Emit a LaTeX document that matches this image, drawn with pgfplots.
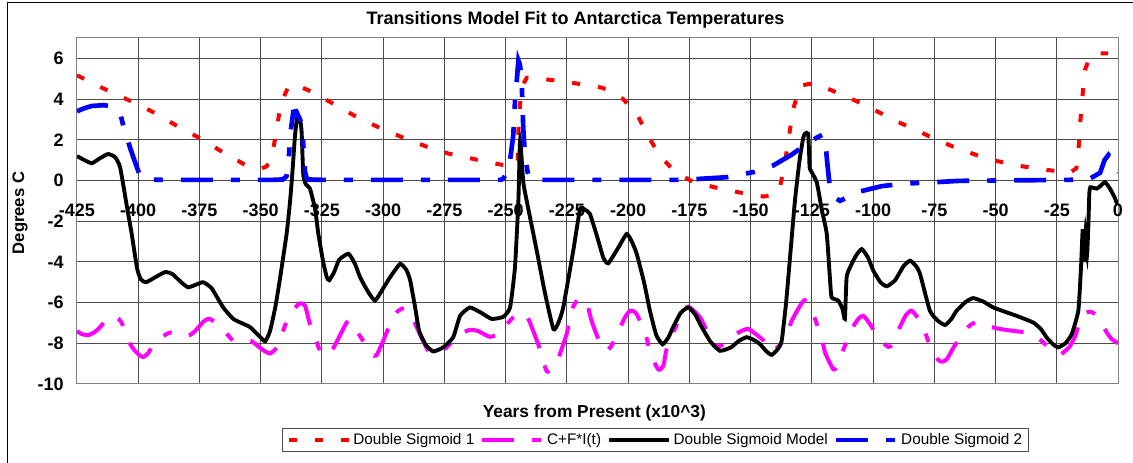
\documentclass[border=0pt]{standalone}
\usepackage{pgfplots}
\pgfplotsset{compat=1.18}
\usepackage{fontspec}
\setmainfont{Liberation Sans}
\definecolor{mag}{RGB}{255,0,255}
\definecolor{rd}{RGB}{255,0,0}
\definecolor{bl}{RGB}{0,0,255}
\begin{document}
\begin{tikzpicture}
\path[use as bounding box] (0pt,0pt) rectangle (849.75pt,-347.25pt);
\draw[black, line width=0.75pt] (5.25pt,-347.25pt) -- (5.25pt,-2.25pt) -- (849.75pt,-2.25pt);
\begin{axis}[
  at={(57.75pt,-288pt)}, anchor=south west,
  scale only axis, width=780.75pt, height=259.5pt,
  xmin=-425, xmax=0, ymin=-10, ymax=7,
  xtick={-425,-400,-375,-350,-325,-300,-275,-250,-225,-200,-175,-150,-125,-100,-75,-50,-25,0},
  xticklabels={-425,-400,-375,-350,-325,-300,-275,-250,-225,-200,-175,-150,-125,-100,-75,-50,-25,0},
  ytick={-10,-8,-6,-4,-2,0,2,4,6},
  yticklabels={-10,-8,-6,-4,-2,0,2,4,6},
  grid=major, major grid style={black!70, line width=0.75pt},
  axis line style={black!50, line width=0.75pt},
  major tick length=0pt,
  tick label style={font=\bfseries\fontsize{13.5}{16}\selectfont},
  xticklabel style={anchor=base, yshift=125.5pt},
  yticklabel style={anchor=east, xshift=-6.5pt},
  every axis title shift=0pt,
  title={Transitions Model Fit to Antarctica Temperatures},
  title style={at={(axis description cs:0.4789,1.0376)}, anchor=base, font=\bfseries\fontsize{13.5}{16}\selectfont},
  xlabel={Years from Present (x10\textasciicircum 3)},
  xlabel style={at={(axis description cs:0.497,-0.0954)}, anchor=base, font=\bfseries\fontsize{13}{15}\selectfont},
  ylabel={Degrees C},
  ylabel style={at={(axis description cs:-0.0548,0.494)}, anchor=center, font=\bfseries\fontsize{12.5}{14}\selectfont},
  legend columns=4,
  legend cell align=left,
  legend image code/.code={\draw[#1] (0pt,0pt) -- (45pt,0pt);},
  legend style={at={(axis description cs:0.556,-0.162)}, anchor=center, draw=black!70, line width=0.75pt,
    font=\fontsize{11.5}{14}\selectfont, /tikz/every even column/.append style={column sep=2.5pt}},
]
\addplot[rd, line width=3pt, dash pattern=on 6pt off 13.5pt] table {
x y
-425 5.17
-415.6 4.6
-404.7 3.99
-394.1 3.37
-384.6 2.71
-374.5 2.05
-365.5 1.39
-356.4 0.77
-350 0.58
-347.6 0.69
-346 1.0
-344.5 1.8
-342.4 3.33
-341 4.0
-338.7 4.6
-336 4.72
-329.6 4.38
-321.7 3.86
-310.8 3.12
-301.3 2.58
-291.4 2.08
-282.9 1.69
-273 1.31
-262.1 1.03
-251.6 0.77
-246 0.7
-245 0.99
-244.8 2.46
-244.1 3.78
-243 4.7
-241.4 5.04
-236 5.0
-230.8 4.93
-220.7 4.76
-210.4 4.55
-201.9 3.99
-195.8 3.12
-191.8 2.17
-187 1.2
-180.9 0.44
-173.4 -0.08
-164.5 -0.34
-155 -0.58
-144.8 -0.79
-140 -0.7
-138 -0.33
-135.9 0.94
-134.2 2.27
-132.6 3.53
-129.6 4.65
-126 4.75
-121.3 4.65
-112.8 4.22
-104.6 3.78
-97.1 3.32
-89.7 2.87
-82.2 2.46
-74 2.0
-65.9 1.59
-57.3 1.23
-48.9 0.94
-39.3 0.7
-29.8 0.53
-19.6 0.38
-17 0.6
-16.2 1.39
-15.5 2.71
-14.6 4.02
-13.5 5.42
-11.5 6.1
-8 6.24
-4 6.25
};
\addlegendentry{Double Sigmoid 1}
\addplot[mag, line width=3pt, dash pattern=on 24pt off 13.5pt on 6.75pt off 13.5pt, smooth, tension=0.4] table {
x y
-425 -7.4
-423 -7.55
-420.5 -7.6
-418.5 -7.5
-416.3 -7.3
-413 -6.85
-410.2 -6.65
-408.5 -6.75
-406.8 -6.98
-404 -7.88
-401.5 -8.35
-399.3 -8.6
-397.9 -8.67
-396 -8.5
-394.5 -8.2
-391 -7.75
-387 -7.47
-384 -7.6
-381.6 -7.68
-379 -7.6
-376.8 -7.4
-373.5 -6.95
-371.5 -6.8
-370 -6.85
-365.5 -7.3
-361.2 -7.88
-357.5 -7.9
-353.7 -7.9
-350 -8.25
-346.2 -8.5
-342.8 -8.1
-340.1 -7.14
-337 -6.4
-334 -6.04
-331.9 -6.16
-329.9 -7.06
-327.5 -7.8
-325.8 -8.37
-323.5 -8.6
-321 -8.37
-318 -7.7
-314.9 -6.98
-313 -6.9
-310.8 -7.4
-307.5 -8.0
-304.7 -8.54
-302.8 -8.6
-300.6 -8.05
-298 -7.3
-295.2 -6.57
-292.5 -6.3
-290.4 -6.32
-287.5 -6.9
-285 -7.55
-281.6 -8.37
-278.8 -8.5
-275 -8.3
-272 -7.95
-269.3 -7.63
-265 -7.35
-261.2 -7.4
-256.4 -7.68
-251.6 -7.47
-249 -7.0
-246.9 -6.73
-243.5 -6.49
-241 -6.75
-239.4 -7.19
-236.7 -8.05
-233.3 -9.36
-231 -9.2
-229.2 -8.95
-225.1 -7.55
-223.7 -6.57
-221.5 -6.0
-219.4 -5.78
-216.9 -6.0
-214.9 -6.9
-210.8 -8.2
-209 -8.35
-206.7 -8.1
-201.3 -6.73
-199 -6.4
-196.5 -6.57
-192.5 -7.72
-191.1 -8.45
-187.7 -9.28
-185.6 -9.1
-184.3 -8.3
-180.2 -7.1
-177.5 -6.5
-175.4 -6.2
-170.6 -6.73
-166.6 -7.72
-163.5 -8.15
-161.8 -8.1
-158 -7.75
-155 -7.47
-150.9 -7.3
-146.1 -7.72
-144.8 -7.85
-142.1 -8.37
-139 -8.2
-135.9 -7.72
-133.2 -6.9
-130 -6.2
-127.8 -5.88
-125 -6.4
-121 -7.72
-119.6 -8.45
-116.2 -9.28
-114.2 -9.03
-112.1 -8.3
-108.1 -7.19
-106 -6.8
-104 -6.65
-101 -7.1
-97.9 -7.72
-93.8 -8.18
-92 -8.0
-89 -7.19
-86.5 -6.6
-84.2 -6.4
-81.5 -6.8
-79.5 -7.2
-76.8 -8.1
-73.5 -8.8
-72 -8.9
-70 -8.8
-66.6 -8.1
-61.1 -7.19
-57.5 -6.95
-53.6 -7.14
-48 -7.3
-42.1 -7.4
-38.5 -7.45
-35.9 -7.52
-32 -7.8
-28.4 -8.2
-25.5 -8.45
-23.5 -8.54
-20 -8.2
-17.4 -7.63
-15.4 -6.8
-13 -6.5
-11.3 -6.45
-9.5 -6.55
-7.9 -6.73
-4.6 -7.47
-2.5 -7.8
0 -8.0
};
\addlegendentry{C+F*I(t)}
\addplot[black, line width=2.9pt, smooth, tension=0.3] table {
x y
-425 1.2
-422 1.0
-418.9 0.85
-415.5 1.1
-412.3 1.3
-409.5 1.15
-407.4 0.65
-404.6 -1.3
-402.7 -2.6
-400.5 -4.3
-399 -4.85
-396.8 -5.0
-393 -4.75
-389 -4.5
-386 -4.6
-382.5 -5.0
-379.6 -5.25
-376 -5.1
-373.4 -5.0
-370 -5.3
-365.3 -6.24
-361.2 -6.8
-357 -7.05
-354.4 -7.2
-351 -7.6
-348.2 -7.9
-346.2 -7.4
-344 -6.2
-342.1 -4.8
-339.4 -2.6
-338 -1.0
-337 0.5
-336 2.2
-335.1 3.1
-334 3.05
-333.3 2.4
-332.6 0.25
-331.5 -0.2
-329.9 -0.4
-327.8 -1.4
-326.5 -2.6
-324.5 -4.0
-323 -4.76
-322 -4.9
-320 -4.5
-318 -3.9
-314.2 -3.6
-311.5 -4.1
-309.4 -4.76
-306 -5.5
-303.3 -5.9
-300 -5.3
-297.2 -4.76
-293.1 -4.1
-290.5 -4.4
-289 -4.9
-287 -6.2
-285.3 -7.4
-282.5 -8.1
-279.5 -8.4
-275.5 -8.2
-271.4 -7.7
-268.6 -6.65
-264.6 -6.24
-260 -6.5
-255.7 -6.8
-251 -6.7
-248.2 -6.24
-246.2 -4.27
-244.8 -1.0
-244.1 1.97
-242.8 -0.08
-241.4 -1.0
-237.3 -3.45
-234 -5.5
-230.5 -7.3
-228.5 -7.0
-226.5 -6.24
-222.4 -3.45
-219.6 -1.4
-217.5 -1.45
-215.6 -1.64
-212.8 -2.7
-210.1 -3.8
-208.1 -4.07
-204 -3.3
-200.6 -2.63
-198.5 -3.0
-196.5 -3.6
-193.5 -5.0
-191.1 -6.4
-188.5 -7.6
-185.9 -8.05
-183.5 -7.7
-181.6 -7.2
-178.5 -6.5
-175.4 -6.24
-172.5 -6.6
-170.6 -7.06
-166.5 -7.9
-162.5 -8.37
-158 -8.2
-155 -7.9
-151.6 -7.7
-148.5 -7.85
-146.1 -8.05
-143.5 -8.4
-141.4 -8.57
-139 -8.3
-137.3 -7.88
-135.5 -6.0
-133.9 -3.78
-131.9 -1.0
-130 1.0
-128.5 2.1
-127.8 2.3
-126.5 2.3
-126 1.0
-125.8 0.58
-123 -0.08
-121 -1.4
-118.9 -2.63
-117.5 -5.0
-116.9 -5.75
-114.2 -5.9
-112.5 -6.3
-111.5 -6.8
-110.8 -4.76
-109.4 -4.27
-107 -3.7
-104.6 -3.37
-102 -3.8
-99.9 -4.43
-97 -5.0
-94.4 -5.2
-91 -4.9
-87.5 -4.2
-84.9 -3.94
-82.5 -4.2
-80.8 -4.6
-76.8 -6.4
-73.5 -6.9
-70.6 -7.1
-68 -6.8
-65.9 -6.4
-62 -5.95
-59.1 -5.78
-55 -5.95
-50.9 -6.24
-45 -6.5
-41.4 -6.65
-34.6 -6.98
-31.5 -7.3
-29.1 -7.72
-26.5 -8.05
-24.4 -8.2
-21.5 -8.0
-18.9 -7.55
-16.2 -6.4
-15.1 -4.27
-14.4 -2.4
-13.8 -4.0
-13.2 -2.5
-12.6 -3.6
-12.1 -2.2
-11.7 -0.6
-11.3 -0.33
-10.8 -0.33
-8.7 -0.4
-7 -0.25
-5.3 -0.08
-3.3 -0.4
-1.5 -0.8
-0.6 -1.07
0 -1.15
};
\addlegendentry{Double Sigmoid Model}
\addplot[bl, line width=3.5pt, dash pattern=on 24pt off 13.5pt on 6.75pt off 13.5pt] table {
x y
-425 3.4
-422 3.55
-419 3.66
-414 3.7
-411.5 3.65
-410.3 3.6
-407.4 3.3
-405.4 2.38
-403.3 1.6
-401.3 0.9
-399.5 0.3
-397.2 0.05
-390 0.03
-345 0.03
-341 0.05
-339.5 0.2
-338.7 0.66
-338 2.2
-336.7 3.37
-335.5 3.4
-334 3.0
-333.3 2.8
-332.6 1.72
-331.9 0.41
-331 0.05
-325 0.03
-252 0.03
-251 0.08
-249.5 0.4
-248.2 0.99
-246.9 2.2
-246.2 3.86
-245.5 4.84
-244.8 5.9
-244.2 5.7
-243.5 5.0
-242.8 2.55
-242.1 1.23
-241 0.4
-240.1 0.08
-238 0.03
-180 0.03
-175 0.05
-170.6 0.08
-159.8 0.16
-148.9 0.41
-140.7 0.74
-133.2 1.27
-126.4 1.86
-123 2.1
-120.5 2.25
-119.5 1.9
-118.8 1.0
-118.2 0.3
-117.6 -0.4
-115.5 -0.85
-113.5 -1.0
-110 -0.8
-106.7 -0.58
-96.5 -0.28
-87.6 -0.16
-74 -0.08
-65 -0.02
-20 0.03
-12 0.05
-7.3 0.38
-5.5 1.0
-3.9 1.25
-2.5 1.0
-0.6 0.5
0 0.4
};
\addlegendentry{Double Sigmoid 2}
\end{axis}
\end{tikzpicture}
\end{document}
